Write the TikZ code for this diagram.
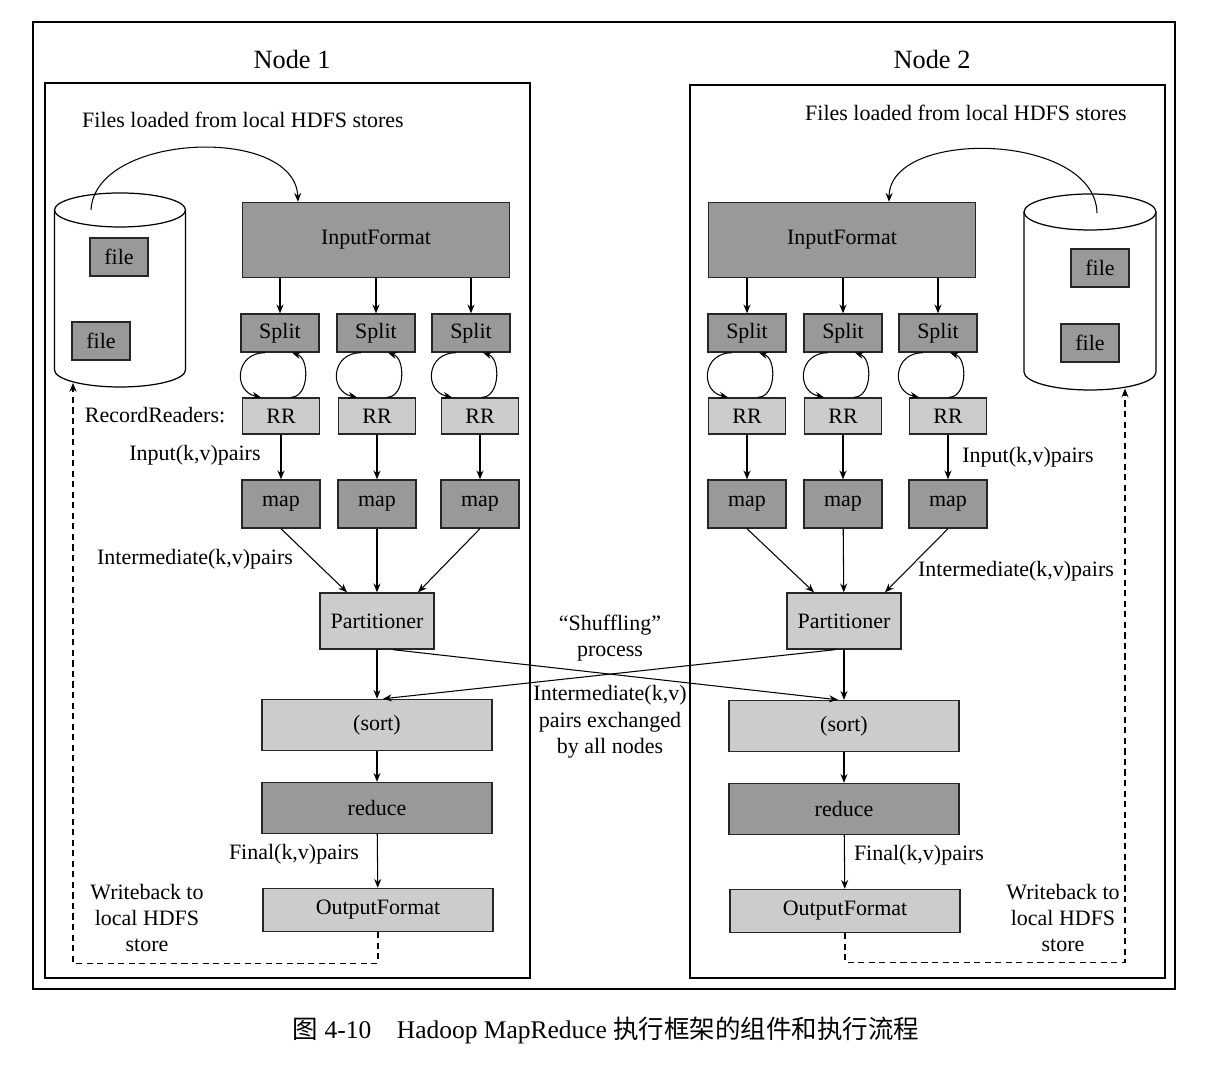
\documentclass[tikz,border=0pt]{standalone}
\usepackage{fontspec}
\setmainfont{Liberation Serif}
\newfontfamily\cjk{Noto Sans CJK SC}
\usepackage{tikz}
\usetikzlibrary{shapes.geometric,arrows.meta,positioning,calc}
\definecolor{darkbox}{gray}{0.6}
\definecolor{lightbox}{gray}{0.8}

\begin{document}
\begin{tikzpicture}[
    box/.style={rectangle, draw=black!85, line width=0.8pt, inner sep=0pt, font=\fontsize{12.5}{15}\selectfont},
    darkstep/.style={box, fill=darkbox},
    lightstep/.style={box, fill=lightbox},
    inbox/.style={darkstep, minimum width=5.34cm, minimum height=1.5cm},
    splitbox/.style={darkstep, minimum width=1.56cm, minimum height=0.76cm},
    rrbox/.style={lightstep, minimum width=1.54cm, minimum height=0.72cm},
    mapbox/.style={darkstep, minimum width=1.56cm, minimum height=0.96cm},
    partbox/.style={lightstep, minimum width=2.28cm, minimum height=1.12cm},
    sortbox/.style={lightstep, minimum width=4.6cm, minimum height=1.02cm},
    reducebox/.style={darkstep, minimum width=4.6cm, minimum height=1.02cm},
    outbox/.style={lightstep, minimum width=4.6cm, minimum height=0.86cm},
    filebox/.style={darkstep, minimum width=1.16cm, minimum height=0.76cm},
    disk/.style={line width=0.7pt, fill=white},
    txt/.style={font=\fontsize{12.5}{15}\selectfont, align=center},
    title/.style={font=\fontsize{15}{18}\selectfont},
    arr/.style={-{Stealth[length=5pt,width=4pt]}, line width=0.6pt},
    writeback/.style={arr, dashed, dash pattern=on 3.5pt off 2.5pt}
]
\useasboundingbox (0,0) rectangle (24.44,21.6);

% Frames
\draw[line width=0.6pt] (0.66,1.82) rectangle (23.5,21.16);
\draw[line width=0.6pt] (0.9,2.04) rectangle (10.6,19.94);
\draw[line width=0.6pt] (13.8,2.04) rectangle (23.3,19.9);
\node[title] (t1) at (5.84,20.4) {Node 1};
\node[title] (t2) at (18.64,20.4) {Node 2};
\node[txt] (load1) at (4.86,19.2) {Files loaded from local HDFS stores};
\node[txt] (load2) at (19.32,19.34) {Files loaded from local HDFS stores};

% Node 1
\coordinate (disk1) at (2.4,15.8);
\draw[disk] (1.09,17.4) -- (1.09,14.2) arc[start angle=180, end angle=360, x radius=1.31, y radius=0.34] -- (3.71,17.4);
\draw[disk] (2.4,17.4) ellipse[x radius=1.31, y radius=0.34];
\node[filebox] (f11) at (2.38,16.46) {file};
\node[filebox] (f12) at (2.02,14.78) {file};
\node[inbox] (in1) at (7.52,16.8) {InputFormat};
\node[splitbox] (s11) at (5.6,14.94) {Split};
\node[splitbox] (s12) at (7.52,14.94) {Split};
\node[splitbox] (s13) at (9.42,14.94) {Split};
\node[rrbox] (r11) at (5.62,13.28) {RR};
\node[rrbox] (r12) at (7.54,13.28) {RR};
\node[rrbox] (r13) at (9.6,13.28) {RR};
\node[mapbox] (m11) at (5.62,11.52) {map};
\node[mapbox] (m12) at (7.54,11.52) {map};
\node[mapbox] (m13) at (9.6,11.52) {map};
\node[partbox] (p1) at (7.54,9.18) {Partitioner};
\node[sortbox] (sort1) at (7.54,7.1) {(sort)};
\node[reducebox] (red1) at (7.54,5.44) {reduce};
\node[outbox] (out1) at (7.56,3.4) {OutputFormat};
\node[txt] (rrlab1) at (3.1,13.3) {RecordReaders:};
\node[txt] (inlab1) at (3.9,12.5) {Input(k,v)pairs};
\node[txt] (imlab1) at (3.9,10.42) {Intermediate(k,v)pairs};
\node[txt] (finlab1) at (5.88,4.52) {Final(k,v)pairs};
\node[txt] (wb1) at (2.94,3.24) {Writeback to\\local HDFS\\store};

\draw[arr] ([shift={(-0.58,1.6)}]disk1) .. controls (1.9,18.95) and (5.9,19.1) .. ([xshift=-1.56cm]in1.north);
\draw[arr] (in1.south -| s11) -- (s11);
\draw[arr] (in1.south -| s12) -- (s12);
\draw[arr] (in1.south -| s13) -- (s13);
\draw[arr] ([xshift=-0.3cm]s11.south) .. controls +(-0.6,0) and +(-0.56,0.12) .. ([xshift=-0.38cm]s11.south |- r11.north);
\draw[arr] ([xshift=0.22cm]s11.south |- r11.north) .. controls +(0.36,0) and +(0.36,-0.12) .. ([xshift=0.24cm]s11.south);
\draw[arr] ([xshift=-0.3cm]s12.south) .. controls +(-0.6,0) and +(-0.56,0.12) .. ([xshift=-0.38cm]s12.south |- r12.north);
\draw[arr] ([xshift=0.22cm]s12.south |- r12.north) .. controls +(0.36,0) and +(0.36,-0.12) .. ([xshift=0.24cm]s12.south);
\draw[arr] ([xshift=-0.3cm]s13.south) .. controls +(-0.6,0) and +(-0.56,0.12) .. ([xshift=-0.38cm]s13.south |- r13.north);
\draw[arr] ([xshift=0.22cm]s13.south |- r13.north) .. controls +(0.36,0) and +(0.36,-0.12) .. ([xshift=0.24cm]s13.south);
\draw[arr] (r11) -- (m11);
\draw[arr] (r12) -- (m12);
\draw[arr] (r13) -- (m13);
\draw[arr] (m11.south) -- ([xshift=-0.6cm]p1.north);
\draw[arr] (m12) -- (p1);
\draw[arr] (m13.south) -- ([xshift=0.82cm]p1.north);
\draw[arr] (p1) -- (sort1);
\draw[arr] (sort1) -- (red1);
\draw[arr] (red1) -- (out1);
\draw[writeback] (out1.south) -- ++(0,-0.62) -| ([shift={(-0.94,-1.86)}]disk1);

% Node 2
\coordinate (disk2) at (21.8,15.76);
\draw[disk] (20.48,17.36) -- (20.48,14.16) arc[start angle=180, end angle=360, x radius=1.32, y radius=0.36] -- (23.12,17.36);
\draw[disk] (21.8,17.36) ellipse[x radius=1.32, y radius=0.36];
\node[filebox] (f21) at (22.0,16.24) {file};
\node[filebox] (f22) at (21.8,14.74) {file};
\node[inbox] (in2) at (16.84,16.8) {InputFormat};
\node[splitbox] (s21) at (14.94,14.94) {Split};
\node[splitbox] (s22) at (16.86,14.94) {Split};
\node[splitbox] (s23) at (18.76,14.94) {Split};
\node[rrbox] (r21) at (14.94,13.28) {RR};
\node[rrbox] (r22) at (16.86,13.28) {RR};
\node[rrbox] (r23) at (18.96,13.28) {RR};
\node[mapbox] (m21) at (14.94,11.52) {map};
\node[mapbox] (m22) at (16.86,11.52) {map};
\node[mapbox] (m23) at (18.96,11.52) {map};
\node[partbox] (p2) at (16.88,9.18) {Partitioner};
\node[sortbox] (sort2) at (16.88,7.08) {(sort)};
\node[reducebox] (red2) at (16.88,5.42) {reduce};
\node[outbox] (out2) at (16.9,3.38) {OutputFormat};
\node[txt] (inlab2) at (20.56,12.46) {Input(k,v)pairs};
\node[txt] (imlab2) at (20.32,10.18) {Intermediate(k,v)pairs};
\node[txt] (finlab2) at (18.38,4.5) {Final(k,v)pairs};
\node[txt] (wb2) at (21.26,3.24) {Writeback to\\local HDFS\\store};

\draw[arr] ([shift={(0.14,1.58)}]disk2) .. controls (21.9,18.95) and (17.8,19.05) .. ([xshift=0.94cm]in2.north);
\draw[arr] (in2.south -| s21) -- (s21);
\draw[arr] (in2.south -| s22) -- (s22);
\draw[arr] (in2.south -| s23) -- (s23);
\draw[arr] ([xshift=-0.3cm]s21.south) .. controls +(-0.6,0) and +(-0.56,0.12) .. ([xshift=-0.38cm]s21.south |- r21.north);
\draw[arr] ([xshift=0.22cm]s21.south |- r21.north) .. controls +(0.36,0) and +(0.36,-0.12) .. ([xshift=0.24cm]s21.south);
\draw[arr] ([xshift=-0.3cm]s22.south) .. controls +(-0.6,0) and +(-0.56,0.12) .. ([xshift=-0.38cm]s22.south |- r22.north);
\draw[arr] ([xshift=0.22cm]s22.south |- r22.north) .. controls +(0.36,0) and +(0.36,-0.12) .. ([xshift=0.24cm]s22.south);
\draw[arr] ([xshift=-0.3cm]s23.south) .. controls +(-0.6,0) and +(-0.56,0.12) .. ([xshift=-0.38cm]s23.south |- r23.north);
\draw[arr] ([xshift=0.22cm]s23.south |- r23.north) .. controls +(0.36,0) and +(0.36,-0.12) .. ([xshift=0.24cm]s23.south);
\draw[arr] (r21) -- (m21);
\draw[arr] (r22) -- (m22);
\draw[arr] (r23) -- (m23);
\draw[arr] (m21.south) -- ([xshift=-0.6cm]p2.north);
\draw[arr] (m22) -- (p2);
\draw[arr] (m23.south) -- ([xshift=0.82cm]p2.north);
\draw[arr] (p2) -- (sort2);
\draw[arr] (sort2) -- (red2);
\draw[arr] (red2) -- (out2);
\draw[writeback] (out2.south) -- ++(0,-0.58) -| ([shift={(0.7,-1.93)}]disk2);

% Shuffling
\node[txt] (shuf) at (12.2,8.84) {“Shuffling”\\process};
\node[txt] (xchg) at (12.2,7.16) {Intermediate(k,v)\\pairs exchanged\\by all nodes};
\draw[arr] ([xshift=0.32cm]p1.south) -- ([xshift=-0.12cm]sort2.north);
\draw[arr] ([xshift=-0.18cm]p2.south) -- ([xshift=0.12cm]sort1.north);

\node[font=\fontsize{14.5}{17}\selectfont] (cap) at (12.12,1.0) {{\cjk 图} 4-10\quad Hadoop MapReduce {\cjk 执行框架的组件和执行流程}};

\end{tikzpicture}
\end{document}
